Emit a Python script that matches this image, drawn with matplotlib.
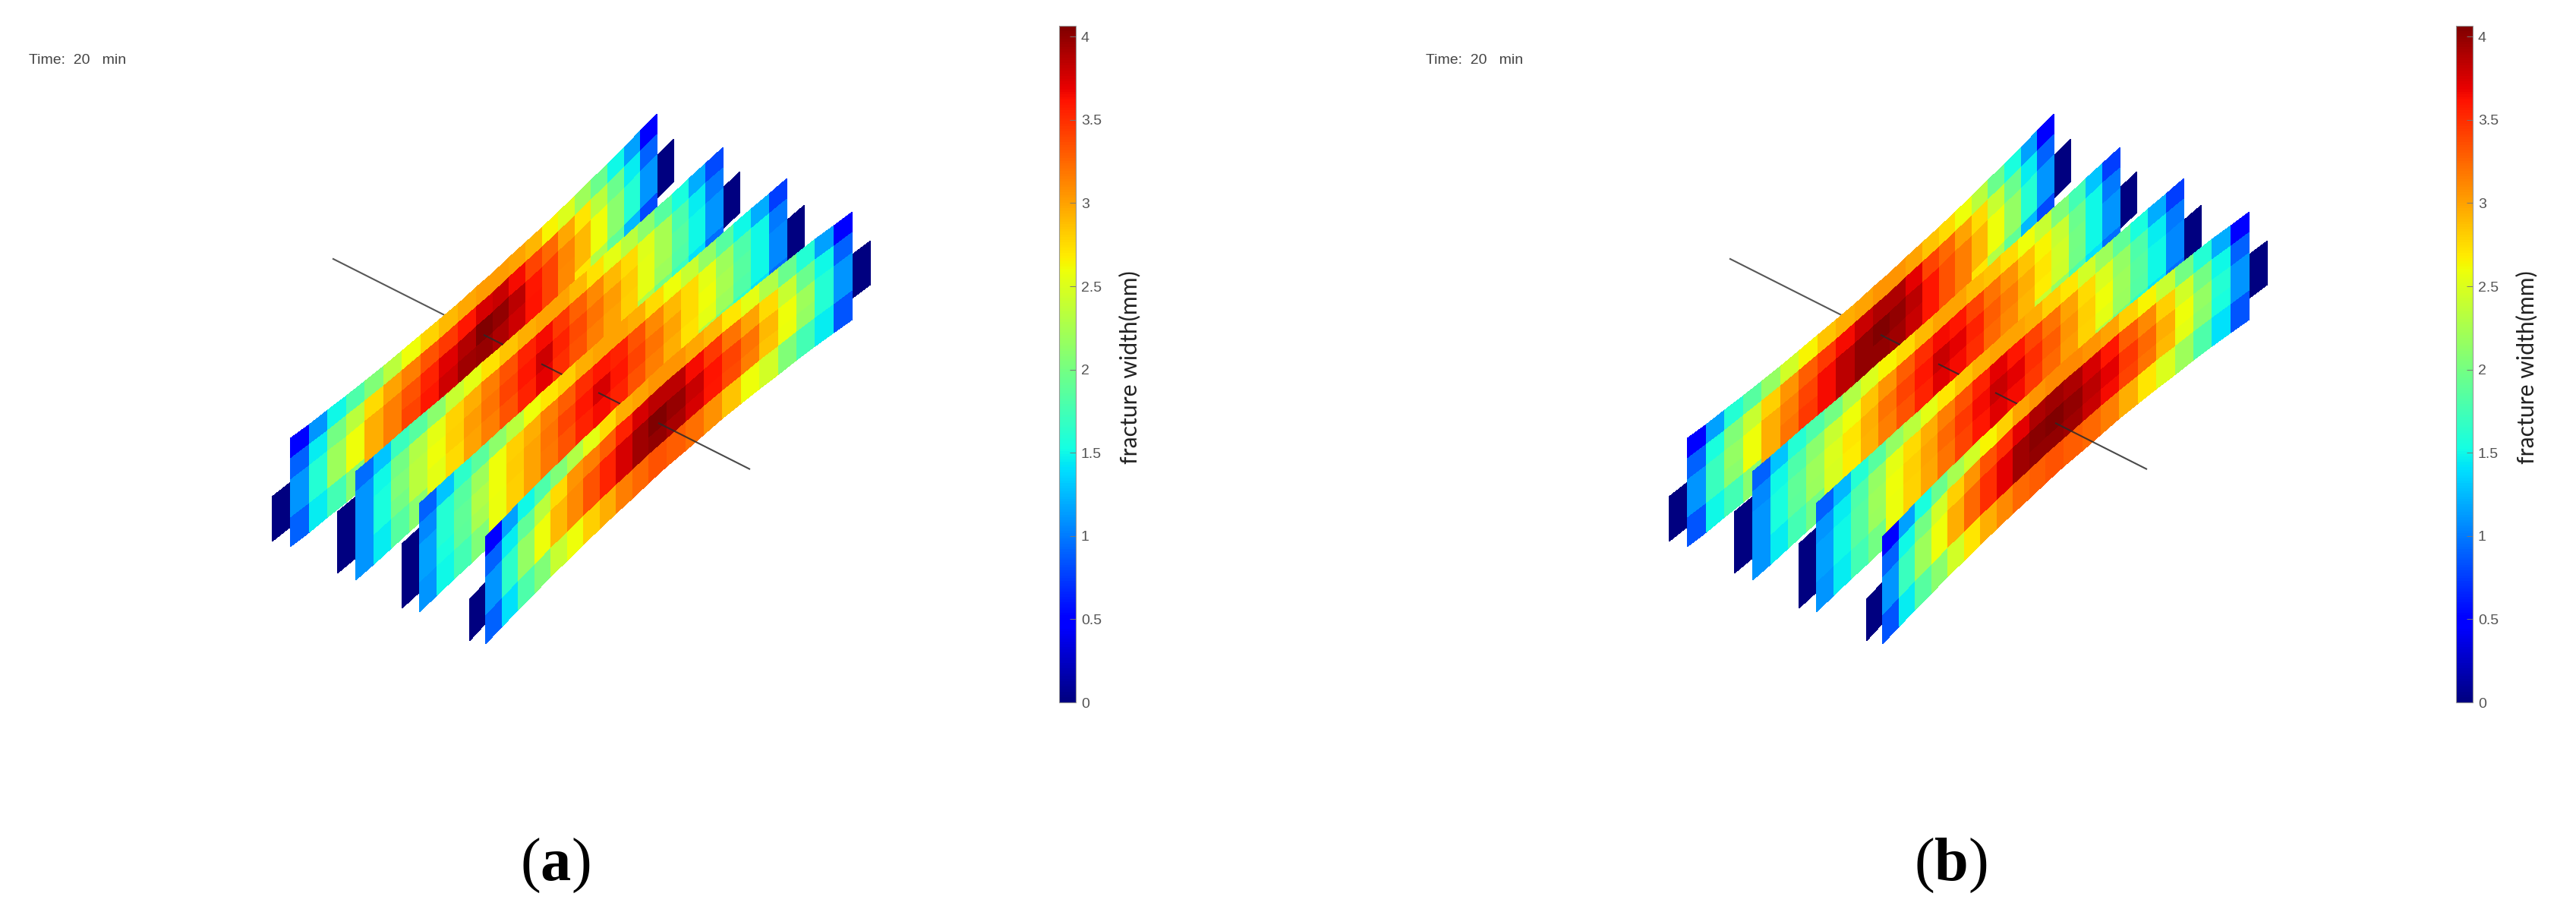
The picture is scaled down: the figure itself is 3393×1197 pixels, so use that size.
import numpy as np
import matplotlib
matplotlib.use("Agg")
import matplotlib.pyplot as plt
from matplotlib.cm import ScalarMappable
from matplotlib.colors import Normalize

plt.rcParams['mathtext.fontset'] = 'custom'
plt.rcParams['mathtext.rm'] = 'Liberation Serif'
plt.rcParams['mathtext.bf'] = 'Liberation Serif:bold'

# ---- values: one row per column of the mesh, five cells along each column ----
plate_a1 = [
 [.50,.90,1.10,1.10,.90],[1.10,1.45,1.60,1.60,1.45],[1.50,2.00,2.20,2.20,1.75],[1.80,2.35,2.60,2.60,2.10],
 [2.05,2.75,2.95,2.95,2.95],[2.35,3.00,3.15,3.15,3.15],[2.60,3.15,3.35,3.40,3.40],[2.78,3.35,3.55,3.60,3.60],
 [2.90,3.45,3.72,3.78,3.78],[2.97,3.60,3.88,3.95,3.95],[3.02,3.75,4.05,3.98,3.98],[3.03,3.80,4.00,3.90,3.90],
 [3.00,3.65,3.85,3.78,3.78],[2.92,3.40,3.60,3.62,3.62],[2.65,3.25,3.40,3.40,3.40],[2.50,2.97,3.12,3.10,3.10],
 [2.20,2.70,2.90,2.90,2.70],[1.95,2.35,2.60,2.60,2.30],[1.50,1.95,2.10,2.10,1.90],[1.15,1.45,1.60,1.60,1.25],
 [.50,.90,1.10,1.10,.80]]
plate_a2 = [
 [.95,1.10,1.10,1.10,1.10],[1.30,1.50,1.55,1.55,1.45],[1.70,2.00,2.05,2.00,1.85],[1.85,2.30,2.35,2.35,2.10],
 [2.10,2.55,2.60,2.55,2.55],[2.40,2.78,2.80,2.75,2.75],[2.55,2.95,3.03,3.00,3.00],[2.73,3.15,3.20,3.15,3.15],
 [2.85,3.35,3.40,3.35,3.35],[2.95,3.55,3.60,3.55,3.55],[3.00,3.65,3.78,3.70,3.70],[3.00,3.45,3.55,3.50,3.50],
 [2.90,3.28,3.38,3.35,3.35],[2.72,3.10,3.20,3.15,3.15],[2.55,2.90,3.03,3.00,3.00],[2.35,2.75,2.82,2.80,2.80],
 [2.12,2.52,2.55,2.55,2.30],[1.85,2.25,2.25,2.20,2.00],[1.55,1.78,1.85,1.82,1.70],[1.20,1.45,1.50,1.50,1.40],
 [.80,1.00,1.10,1.10,.95]]
plate_a3 = [
 [.90,1.05,1.15,1.15,1.10],[1.30,1.60,1.60,1.55,1.50],[1.65,1.85,1.90,1.88,1.75],[1.87,2.20,2.30,2.25,2.05],
 [2.12,2.60,2.60,2.58,2.58],[2.35,2.80,2.82,2.80,2.80],[2.60,2.95,3.00,3.00,3.00],[2.70,3.15,3.20,3.18,3.18],
 [2.80,3.30,3.40,3.35,3.35],[2.95,3.50,3.60,3.55,3.55],[3.00,3.60,3.75,3.65,3.65],[3.00,3.55,3.60,3.55,3.55],
 [2.95,3.35,3.40,3.35,3.35],[2.75,3.10,3.20,3.15,3.15],[2.60,2.90,3.00,2.95,2.95],[2.40,2.75,2.75,2.72,2.72],
 [2.15,2.55,2.60,2.55,2.30],[1.85,2.20,2.25,2.20,2.00],[1.50,1.80,1.85,1.82,1.65],[1.20,1.50,1.50,1.50,1.40],
 [.75,1.00,1.05,1.05,.95]]
plate_a4 = [
 [.50,.90,1.10,1.10,.90],[1.15,1.45,1.65,1.65,1.40],[1.50,1.90,2.15,2.15,1.80],[1.80,2.35,2.60,2.60,2.05],
 [2.05,2.75,2.90,2.90,2.40],[2.30,3.05,3.10,3.10,2.60],[2.55,3.15,3.35,3.35,2.80],[2.75,3.30,3.55,3.55,2.95],
 [2.95,3.55,3.75,3.75,3.15],[3.00,3.75,3.95,3.95,3.25],[3.05,3.85,4.06,4.00,3.35],[3.05,3.85,3.97,3.92,3.30],
 [2.97,3.65,3.80,3.76,3.22],[2.90,3.45,3.62,3.60,3.07],[2.70,3.20,3.40,3.38,2.85],[2.55,3.00,3.20,3.15,2.60],
 [2.30,2.75,2.90,2.85,2.45],[1.95,2.40,2.60,2.58,2.05],[1.60,1.95,2.20,2.15,1.75],[1.15,1.50,1.60,1.60,1.45],
 [.50,.90,1.10,1.10,.85]]
plate_b1 = [
 [.50,.90,1.10,1.10,.85],[1.15,1.55,1.70,1.70,1.50],[1.60,2.05,2.15,2.10,1.75],[1.85,2.40,2.60,2.60,2.10],
 [2.15,2.80,2.95,2.95,2.95],[2.45,3.05,3.15,3.20,3.20],[2.65,3.30,3.40,3.45,3.45],[2.85,3.45,3.65,3.65,3.65],
 [2.95,3.65,3.85,3.85,3.85],[3.00,3.80,4.00,4.00,4.00],[3.05,3.90,4.06,4.00,4.00],[3.05,3.90,4.00,3.95,3.95],
 [3.00,3.70,3.85,3.80,3.80],[2.85,3.40,3.60,3.60,3.60],[2.75,3.25,3.35,3.35,3.35],[2.60,3.00,3.15,3.15,3.15],
 [2.35,2.75,2.90,2.90,2.70],[1.95,2.40,2.60,2.60,2.30],[1.55,1.95,2.15,2.15,1.90],[1.15,1.45,1.60,1.60,1.25],
 [.50,.90,1.10,1.10,.80]]
plate_b2 = [
 [.90,1.05,1.10,1.10,1.10],[1.30,1.50,1.55,1.55,1.45],[1.60,1.80,1.90,1.88,1.75],[1.80,2.10,2.20,2.18,2.00],
 [2.00,2.40,2.50,2.48,2.48],[2.30,2.60,2.70,2.68,2.68],[2.50,2.85,2.95,2.93,2.93],[2.65,3.05,3.20,3.15,3.15],
 [2.75,3.30,3.40,3.35,3.35],[2.90,3.50,3.60,3.55,3.55],[3.00,3.65,3.80,3.72,3.72],[3.00,3.60,3.70,3.65,3.65],
 [2.90,3.40,3.55,3.50,3.50],[2.85,3.20,3.30,3.25,3.25],[2.75,3.05,3.15,3.10,3.10],[2.60,2.85,2.95,2.92,2.92],
 [2.40,2.65,2.70,2.68,2.40],[2.05,2.40,2.45,2.43,2.15],[1.75,1.95,2.00,1.98,1.80],[1.30,1.50,1.50,1.50,1.40],
 [.75,1.00,1.10,1.10,.95]]
plate_b3 = [
 [.90,1.10,1.15,1.15,1.10],[1.25,1.45,1.50,1.50,1.45],[1.60,1.80,1.85,1.85,1.75],[1.85,2.15,2.20,2.18,2.00],
 [2.15,2.55,2.60,2.58,2.58],[2.35,2.75,2.80,2.78,2.78],[2.55,2.95,3.00,2.98,2.98],[2.70,3.15,3.25,3.20,3.20],
 [2.85,3.35,3.45,3.40,3.40],[2.95,3.55,3.65,3.60,3.60],[3.00,3.70,3.80,3.72,3.72],[3.00,3.60,3.70,3.65,3.65],
 [2.95,3.40,3.50,3.45,3.45],[2.80,3.20,3.30,3.25,3.25],[2.70,3.00,3.05,3.03,3.03],[2.45,2.75,2.80,2.78,2.78],
 [2.20,2.50,2.60,2.55,2.30],[1.90,2.15,2.20,2.18,2.00],[1.55,1.80,1.85,1.83,1.65],[1.20,1.45,1.50,1.50,1.40],
 [.75,1.00,1.05,1.05,.95]]
plate_b4 = [
 [.50,.90,1.10,1.10,.85],[1.15,1.50,1.70,1.70,1.45],[1.55,2.00,2.20,2.20,1.85],[1.95,2.45,2.60,2.60,2.10],
 [2.25,2.80,2.95,2.95,2.45],[2.45,3.05,3.25,3.25,2.70],[2.65,3.35,3.50,3.50,2.95],[2.80,3.50,3.70,3.70,3.10],
 [3.00,3.70,3.95,3.95,3.25],[3.05,3.90,4.03,4.00,3.30],[3.10,3.95,4.06,4.00,3.35],[3.10,3.90,4.00,3.95,3.30],
 [3.05,3.75,3.85,3.80,3.25],[3.00,3.60,3.70,3.65,3.15],[2.80,3.30,3.45,3.40,2.95],[2.65,3.10,3.25,3.20,2.70],
 [2.40,2.80,2.95,2.90,2.50],[2.00,2.45,2.60,2.55,2.20],[1.60,2.00,2.15,2.10,1.80],[1.20,1.50,1.60,1.55,1.40],
 [.50,.90,1.10,1.10,.85]]
panels = [[plate_a1, plate_a2, plate_a3, plate_a4], [plate_b1, plate_b2, plate_b3, plate_b4]]
cbar_ticks = [0, 0.5, 1, 1.5, 2, 2.5, 3, 3.5, 4]
cbar_labels = ['0', '0.5', '1', '1.5', '2', '2.5', '3', '3.5', '4']
cbar_title = 'fracture width(mm)'
time_text = 'Time:  20   min'
panel_labels = [r'($\mathbf{a}$)', r'($\mathbf{b}$)']
VMAX = 4.065

# ---- layout of the projected plates (figure pixels) ----
PANEL_SHIFT = 1840
LEFT_X = [382.3, 467.7, 552.3, 639.0]
MID_X = [627.0, 705.7, 781.0, 854.0]
RIGHT_X = [865.0, 951.7, 1035.7, 1122.0]
TOP_L = [577.0, 620.7, 663.0, 707.0]
TOP_M = [378.0, 416.0, 457.0, 498.0]
TOP_R = [150.0, 194.0, 235.0, 279.0]
H_L = [142.0, 142.0, 142.0, 140.0]
H_M = [136.0, 136.0, 136.0, 137.0]
H_R = [141.0, 141.0, 141.0, 141.0]
ROW_FRAC = np.array([0, .19, .385, .58, .74, 1.0])
N_LEFT, N_RIGHT = 10, 11
NAVY_L = [(.41, .82), (.235, .80), (.225, .82), (.43, .81)]
NAVY_R = [(.39, .78), (.376, .75), (.39, .78), (.40, .80)]
WELL = (438.0, 340.5, 988.0, 618.0)
WELL_CROSS = [637.0, 713.0, 788.0, 867.0]

fig = plt.figure(figsize=(33.93, 11.97), dpi=100, facecolor='white')
ax = fig.add_axes([0, 0, 1, 1])
ax.set_xlim(0, 3393)
ax.set_ylim(1197, 0)
ax.axis('off')
norm = Normalize(0, VMAX)
cmap = 'jet'


def well_y(x):
    x0, y0, x1, y1 = WELL
    return y0 + (x - x0) * (y1 - y0) / (x1 - x0)


def curve(xs, k, knots):
    return np.polyval(np.polyfit([LEFT_X[k], MID_X[k], RIGHT_X[k]], knots, 2), xs)


def draw_panel(plates, shift):
    ax.plot([WELL[0] + shift, WELL_CROSS[0] + shift], [well_y(WELL[0]), well_y(WELL_CROSS[0])],
            color='#3a3a3a', lw=1.5, alpha=.85, zorder=5, solid_capstyle='butt')
    for k, plate in enumerate(plates):
        vals = np.array(plate).T
        xs = np.r_[np.linspace(LEFT_X[k], MID_X[k], N_LEFT + 1),
                   np.linspace(MID_X[k], RIGHT_X[k], N_RIGHT + 1)[1:]]
        tops = curve(xs, k, [TOP_L[k], TOP_M[k], TOP_R[k]])
        hs = curve(xs, k, [H_L[k], H_M[k], H_R[k]])
        X = np.tile(xs + shift, (len(ROW_FRAC), 1))
        Y = tops[None, :] + ROW_FRAC[:, None] * hs[None, :]
        z = 10 + 2 * k
        ax.pcolormesh(X, Y, vals, cmap=cmap, norm=norm, shading='flat', zorder=z,
                      edgecolors='face', linewidth=.4)
        # zero-width end cells
        dl = xs[1] - xs[0]
        sl = (tops[1] - tops[0]) / dl
        xn = np.array([[xs[0] - dl, xs[0]]] * 2) + shift
        yn = np.array([[tops[0] + f * H_L[k] - sl * dl, tops[0] + f * H_L[k]] for f in NAVY_L[k]])
        ax.pcolormesh(xn, yn, np.zeros((1, 1)), cmap=cmap, norm=norm, shading='flat', zorder=z - .5,
                      edgecolors='face', linewidth=.4)
        dr = xs[-1] - xs[-2]
        sr = (tops[-1] - tops[-2]) / dr
        xn = np.array([[xs[-1], xs[-1] + dr]] * 2) + shift
        yn = np.array([[tops[-1] + f * H_R[k], tops[-1] + f * H_R[k] + sr * dr] for f in NAVY_R[k]])
        ax.pcolormesh(xn, yn, np.zeros((1, 1)), cmap=cmap, norm=norm, shading='flat', zorder=z - .5,
                      edgecolors='face', linewidth=.4)
        x_end = WELL_CROSS[k + 1] if k < 3 else WELL[2]
        ax.plot([WELL_CROSS[k] + shift, x_end + shift], [well_y(WELL_CROSS[k]), well_y(x_end)],
                color='#2a2a2a', lw=1.5, alpha=.85, zorder=z + 1, solid_capstyle='butt')


def draw_colorbar(shift):
    x0, x1, y0, y1 = 1395 + shift, 1417 + shift, 34, 925
    cax = fig.add_axes([x0 / 3393, 1 - y1 / 1197, (x1 - x0) / 3393, (y1 - y0) / 1197])
    cb = fig.colorbar(ScalarMappable(norm=norm, cmap=cmap), cax=cax, ticks=cbar_ticks)
    cb.set_ticklabels(cbar_labels)
    cax.tick_params(axis='y', direction='in', length=5.5, width=.7, color='#777777', pad=5,
                    labelsize=14, labelcolor='#555555')
    for lab in cax.get_yticklabels():
        lab.set_family('Liberation Sans')
    cb.outline.set_edgecolor('#999999')
    cb.outline.set_linewidth(.8)
    ax.text(1488 + shift, 484, cbar_title, rotation=90, ha='center', va='center',
            family='Lato', fontsize=21.7, color='#222222')


for idx, plates in enumerate(panels):
    s = PANEL_SHIFT * idx
    draw_panel(plates, s)
    draw_colorbar(s)
    ax.text(38 + s, 80, time_text, family='Liberation Sans', fontsize=14, color='#444444',
            ha='left', va='center')
    ax.text(731.5 + 1838 * idx, 1140, panel_labels[idx], family='Liberation Serif', fontsize=58,
            color='black', ha='center', va='center')

fig.savefig('out.png', dpi=100, facecolor='white')
